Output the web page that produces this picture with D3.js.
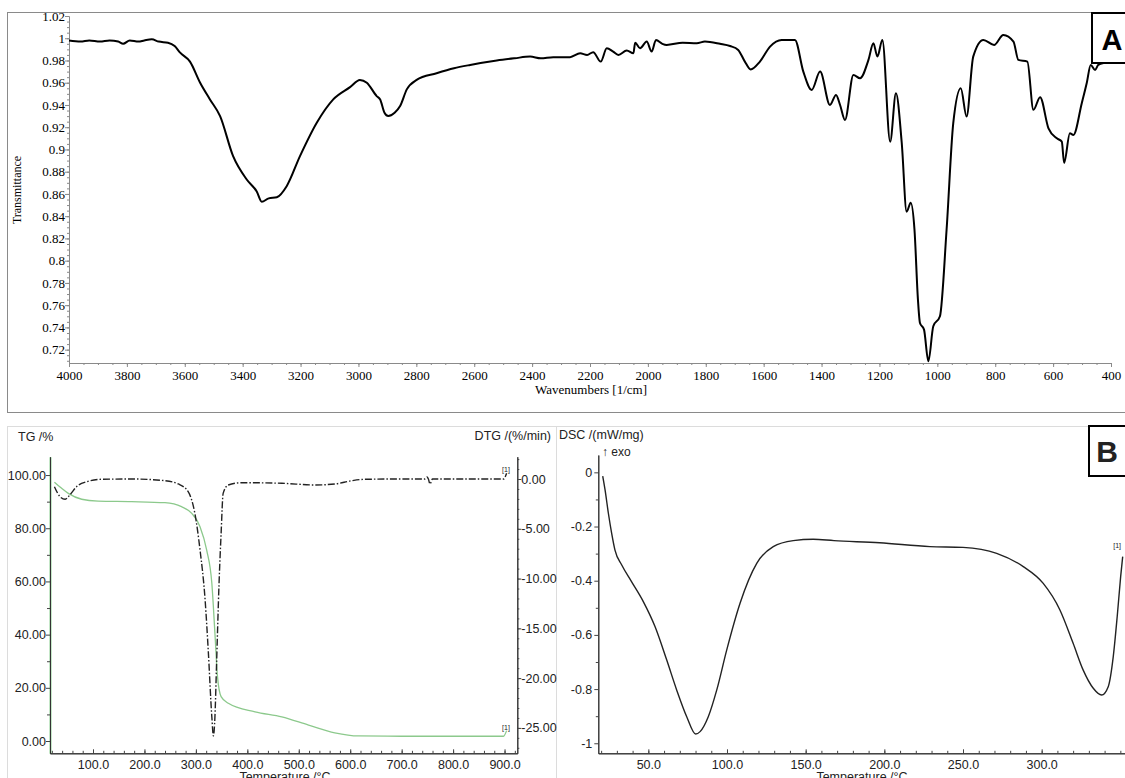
<!DOCTYPE html>
<html>
<head>
  <meta charset="utf-8">
  <title>FTIR and TG/DTG/DSC</title>
  <style>
    body { margin: 0; background: #fff; }
    svg { display: block; }
    .ir text { font-family: "Liberation Serif", serif; font-size: 13px; fill: #000; }
    .ta text { font-family: "Liberation Sans", Arial, sans-serif; font-size: 12.5px; fill: #222; }
  </style>
</head>
<body>
  <script src="https://d3js.org/d3.v7.min.js"></script>
  <script>
  // panel A: FTIR spectrum
  const irWavenumber = [4000, 3960, 3930, 3893, 3860, 3830, 3813, 3790, 3760, 3740, 3714, 3690, 3658, 3635, 3616,
    3582, 3547, 3513, 3478, 3433, 3386, 3351, 3334, 3310, 3282, 3248, 3202, 3144, 3087, 3029, 2995, 2971, 2937,
    2925, 2910, 2897, 2875, 2856, 2833, 2799, 2730, 2670, 2614, 2522, 2460, 2407, 2370, 2327, 2269, 2234, 2210,
    2189, 2163, 2142, 2120, 2102, 2073, 2050, 2044, 2027, 2004, 1987, 1972, 1950, 1935, 1880, 1831, 1803, 1751,
    1716, 1688, 1665, 1645, 1613, 1578, 1538, 1492, 1463, 1434, 1405, 1371, 1350, 1336, 1319, 1290, 1267, 1238,
    1221, 1207, 1190, 1163, 1143, 1123, 1106, 1092, 1079, 1067, 1060, 1046, 1031, 1014, 991, 968, 945, 919, 899,
    876, 841, 804, 772, 737, 720, 689, 668, 645, 616, 587, 570, 562, 542, 530, 501, 484, 470, 455, 444, 420, 400];
  const irTransmittance = [0.998, 0.997, 0.998, 0.997, 0.998, 0.997, 0.995, 0.998, 0.997, 0.998, 0.999, 0.997, 0.996, 0.993, 0.987,
    0.979, 0.960, 0.945, 0.930, 0.894, 0.873, 0.862, 0.853, 0.856, 0.857, 0.867, 0.894, 0.924, 0.945, 0.956, 0.9625, 0.960, 0.948,
    0.945, 0.933, 0.930, 0.933, 0.939, 0.954, 0.9625, 0.9685, 0.973, 0.976, 0.980, 0.982, 0.9835, 0.982, 0.983, 0.983, 0.9865, 0.985,
    0.9875, 0.979, 0.991, 0.988, 0.985, 0.989, 0.9865, 0.996, 0.991, 0.997, 0.988, 0.9985, 0.995, 0.994, 0.996, 0.9955, 0.997, 0.995,
    0.993, 0.9895, 0.979, 0.972, 0.979, 0.9925, 0.9985, 0.9985, 0.970, 0.9535, 0.970, 0.940, 0.949, 0.940, 0.9266, 0.967, 0.964, 0.9805,
    0.9955, 0.9835, 0.9985, 0.907, 0.9505, 0.906, 0.844, 0.852, 0.828, 0.765, 0.744, 0.738, 0.7095, 0.741, 0.750, 0.828, 0.9236, 0.955, 0.9296,
    0.9835, 0.9985, 0.994, 1.003, 0.997, 0.9805, 0.979, 0.9356, 0.947, 0.919, 0.910, 0.907, 0.888, 0.9146, 0.913, 0.9416, 0.9595, 0.976, 0.9715, 0.976, 0.978, 0.979];
  const irXTicks = [4000, 3800, 3600, 3400, 3200, 3000, 2800, 2600, 2400, 2200, 2000, 1800, 1600, 1400, 1200, 1000, 800, 600, 400];
  const irYTicks = [0.72, 0.74, 0.76, 0.78, 0.8, 0.82, 0.84, 0.86, 0.88, 0.9, 0.92, 0.94, 0.96, 0.98, 1, 1.02];

  // panel B left: TG and DTG
  const tgTemp = [25, 39, 52, 78, 110, 175, 240, 272, 292, 308, 321, 331, 337, 342, 349, 363, 415, 467, 519, 570, 616, 700, 800, 898, 904];
  const tgMass = [97.3, 95.0, 93.1, 90.9, 90.2, 90.0, 89.6, 88.1, 85.6, 80.6, 71.8, 59.3, 40.5, 24.2, 16.7, 14.2, 11.0, 9.1, 6.0, 3.1, 1.9, 1.8, 1.8, 1.8, 3.9];
  const dtgTemp = [25, 36, 46, 55, 68, 88, 117, 175, 240, 266, 285, 298, 308, 318, 324, 331, 334, 337, 340, 345, 349, 353, 363, 389,
    467, 532, 570, 603, 629, 700, 745, 749, 752, 755, 760, 800, 898, 904];
  const dtgRate = [-0.77, -1.78, -2.04, -1.6, -0.77, -0.27, -0.03, 0, -0.17, -0.5, -1.28, -3.45, -7.1, -12.2, -17.2, -23.9, -25.8, -23.9, -18.9, -10.5, -5.5, -1.44, -0.6, -0.37,
    -0.43, -0.6, -0.5, -0.17, -0.03, 0, 0, 0.2, 0, -0.5, 0, 0, 0, 0.57];
  const tgTempTicks = [100, 200, 300, 400, 500, 600, 700, 800, 900];
  const tgTicks = [0, 20, 40, 60, 80, 100];
  const dtgTicks = [0, -5, -10, -15, -20, -25];

  // panel B right: DSC
  const dscTemp = [21, 22.5, 24.6, 26.7, 28.8, 33.1, 39.4, 46.8, 54.3, 61.7, 68, 74.4, 80.1, 82.9, 88.1, 93.5, 99.8, 108.3, 118.9,
    129.4, 142.1, 154.8, 168, 197, 229, 250, 271.4, 288.3, 301, 311.6, 320, 326.4, 332.8, 338.1, 342.3, 345.5, 348, 350.2, 351.5];
  const dscFlow = [-0.014, -0.065, -0.151, -0.225, -0.287, -0.342, -0.404, -0.477, -0.57, -0.693, -0.803, -0.902, -0.966, -0.957, -0.902, -0.803, -0.656, -0.483, -0.336,
    -0.274, -0.252, -0.247, -0.252, -0.26, -0.274, -0.277, -0.299, -0.348, -0.41, -0.508, -0.631, -0.73, -0.797, -0.822, -0.791, -0.68, -0.533, -0.385, -0.311];
  const dscTempTicks = [50, 100, 150, 200, 250, 300];
  const dscTicks = [0, -0.2, -0.4, -0.6, -0.8, -1];

  const W = 1125, H = 778;
  const svg = d3.select("body").append("svg").attr("width", W).attr("height", H);

  function minorRange(a, b, step) {
    const out = [];
    const n = Math.round((b - a) / step);
    for (let i = 0; i <= n; i++) out.push(+(a + i * step).toFixed(4));
    return out;
  }

  const SERIF = "'Liberation Serif', 'Times New Roman', serif";
  const SANS = "'Liberation Sans', Arial, sans-serif";

  // ---------------- panel A ----------------
  const ir = svg.append("g").attr("class", "ir");
  ir.append("rect").attr("x", 7.5).attr("y", 12.5).attr("width", 1130).attr("height", 400)
    .attr("fill", "none").attr("stroke", "#8a8a8a");

  const irX = d3.scaleLinear().domain([4000, 400]).range([69, 1111]);
  const irY = d3.scaleLinear().domain([1.02, 0.708]).range([16, 363]);

  const irYAxis = ir.append("g").attr("transform", "translate(69,0)")
    .call(d3.axisLeft(irY).tickValues(irYTicks).tickFormat(d => String(+d.toFixed(2))).tickSize(4).tickSizeOuter(0));
  ir.append("g").attr("transform", "translate(69,0)")
    .call(d3.axisLeft(irY).tickValues(minorRange(0.71, 1.02, 0.005)).tickFormat("").tickSize(2).tickSizeOuter(0));
  const irXAxis = ir.append("g").attr("transform", "translate(0,363)")
    .call(d3.axisBottom(irX).tickValues(irXTicks).tickFormat(d3.format("d")).tickSize(4).tickSizeOuter(0));
  ir.append("g").attr("transform", "translate(0,363)")
    .call(d3.axisBottom(irX).tickValues(minorRange(400, 4000, 50)).tickFormat("").tickSize(2).tickSizeOuter(0));
  ir.selectAll("g").attr("font-family", SERIF).attr("font-size", 13);
  ir.selectAll(".domain, .tick line").attr("stroke", "#8a8a8a");
  ir.selectAll(".tick text").attr("fill", "#000").style("font-family", SERIF).style("font-size", "13px");
  irYAxis.selectAll(".tick text").attr("x", -4);
  irXAxis.selectAll(".tick text").attr("y", 8);

  ir.append("text").attr("transform", "translate(21,190) rotate(-90)").attr("text-anchor", "middle")
    .style("font-family", SERIF).style("font-size", "12px").text("Transmittance");
  ir.append("text").attr("x", 591).attr("y", 394).attr("text-anchor", "middle")
    .style("font-family", SERIF).text("Wavenumbers [1/cm]");

  ir.append("path")
    .datum(irWavenumber.map((w, i) => [w, irTransmittance[i]]))
    .attr("fill", "none").attr("stroke", "#000").attr("stroke-width", 2).attr("stroke-linejoin", "round")
    .attr("d", d3.line().curve(d3.curveMonotoneX).x(d => irX(d[0])).y(d => irY(d[1])));

  ir.append("rect").attr("x", 1092).attr("y", 13).attr("width", 40).attr("height", 50)
    .attr("fill", "#fff").attr("stroke", "#000").attr("stroke-width", 2);
  ir.append("text").attr("x", 1112).attr("y", 50).attr("text-anchor", "middle")
    .style("font-family", SANS).style("font-weight", "bold").style("font-size", "29px").text("A");

  // ---------------- panel B ----------------
  const ta = svg.append("g").attr("class", "ta");
  ta.append("rect").attr("x", 7.5).attr("y", 426.5).attr("width", 1130).attr("height", 400)
    .attr("fill", "none").attr("stroke", "#dcdcdc");
  ta.append("line").attr("x1", 556.5).attr("x2", 556.5).attr("y1", 426.5).attr("y2", H)
    .attr("stroke", "#dcdcdc");

  // TG / DTG
  const tX = d3.scaleLinear().domain([16.4, 924.8]).range([50, 517.3]);
  const tgY = d3.scaleLinear().domain([-4.62, 106.9]).range([753.3, 456.7]);
  const dtgY = d3.scaleLinear().domain([-27.55, 2.24]).range([753.3, 456.7]);

  const tgAxis = ta.append("g").attr("transform", "translate(50,0)")
    .call(d3.axisLeft(tgY).tickValues(tgTicks).tickFormat(d => d.toFixed(2)).tickSize(4).tickSizeOuter(0));
  ta.append("g").attr("transform", "translate(50,0)")
    .call(d3.axisLeft(tgY).tickValues([10, 30, 50, 70, 90]).tickFormat("").tickSize(3).tickSizeOuter(0));
  tgAxis.select(".domain").attr("stroke", "#3fae49").attr("stroke-width", 1.6);

  const dtgAxis = ta.append("g").attr("transform", "translate(517.3,0)")
    .call(d3.axisRight(dtgY).tickValues(dtgTicks).tickFormat(d => d.toFixed(2)).tickSize(4).tickSizeOuter(0));
  ta.append("g").attr("transform", "translate(517.3,0)")
    .call(d3.axisRight(dtgY).tickValues(minorRange(-27, 2, 1)).tickFormat("").tickSize(2).tickSizeOuter(0));

  const tAxis = ta.append("g").attr("transform", "translate(0,753.3)")
    .call(d3.axisBottom(tX).tickValues(tgTempTicks).tickFormat(d => d.toFixed(1)).tickSize(-4).tickSizeOuter(0));
  ta.append("g").attr("transform", "translate(0,753.3)")
    .call(d3.axisBottom(tX).tickValues(minorRange(20, 920, 20)).tickFormat("").tickSize(-2.5).tickSizeOuter(0));

  // DSC
  const dX = d3.scaleLinear().domain([18.2, 353.6]).range([598.3, 1126]);
  const dY = d3.scaleLinear().domain([-1.037, 0.064]).range([753.3, 455]);

  const dscAxis = ta.append("g").attr("transform", "translate(598.3,0)")
    .call(d3.axisLeft(dY).tickValues(dscTicks).tickFormat(d => String(+d.toFixed(1))).tickSize(4).tickSizeOuter(0));
  ta.append("g").attr("transform", "translate(598.3,0)")
    .call(d3.axisLeft(dY).tickValues([-0.1, -0.3, -0.5, -0.7, -0.9]).tickFormat("").tickSize(2.5).tickSizeOuter(0));
  const dAxis = ta.append("g").attr("transform", "translate(0,753.3)")
    .call(d3.axisBottom(dX).tickValues(dscTempTicks).tickFormat(d => d.toFixed(1)).tickSize(-4).tickSizeOuter(0));
  ta.append("g").attr("transform", "translate(0,753.3)")
    .call(d3.axisBottom(dX).tickValues(minorRange(20, 350, 10)).tickFormat("").tickSize(-2.5).tickSizeOuter(0));

  ta.selectAll(".domain").filter(function() { return d3.select(this).attr("stroke") !== "#3fae49"; })
    .attr("stroke", "#333");
  ta.selectAll(".tick line").attr("stroke", "#444");
  ta.selectAll(".tick text").attr("fill", "#222").style("font-size", "12.5px").style("font-family", SANS);
  tgAxis.selectAll(".tick text").attr("x", -4);
  dtgAxis.selectAll(".tick text").attr("x", 4);
  dscAxis.selectAll(".tick text").attr("x", -6);
  tAxis.selectAll(".tick text").attr("y", 7);
  dAxis.selectAll(".tick text").attr("y", 7);

  ta.append("text").attr("x", 18).attr("y", 441).text("TG /%");
  ta.append("text").attr("x", 551).attr("y", 440).attr("text-anchor", "end").text("DTG /(%/min)");
  ta.append("text").attr("x", 559).attr("y", 439).text("DSC /(mW/mg)");
  ta.append("text").attr("x", 602).attr("y", 456).style("font-size", "12px").text("\u2191 exo");
  ta.append("text").attr("x", 285).attr("y", 781).attr("text-anchor", "middle").text("Temperature /\u00b0C");
  ta.append("text").attr("x", 862).attr("y", 781).attr("text-anchor", "middle").text("Temperature /\u00b0C");

  const smooth = d3.curveMonotoneX;
  ta.append("path")
    .datum(tgTemp.map((t, i) => [t, tgMass[i]]))
    .attr("fill", "none").attr("stroke", "#8cc98c").attr("stroke-width", 1.3)
    .attr("d", d3.line().curve(smooth).x(d => tX(d[0])).y(d => tgY(d[1])));
  ta.append("path")
    .datum(dtgTemp.map((t, i) => [t, dtgRate[i]]))
    .attr("fill", "none").attr("stroke", "#222").attr("stroke-width", 1.4)
    .attr("stroke-dasharray", "7,2,1.5,2")
    .attr("d", d3.line().curve(smooth).x(d => tX(d[0])).y(d => dtgY(d[1])));
  ta.append("path")
    .datum(dscTemp.map((t, i) => [t, dscFlow[i]]))
    .attr("fill", "none").attr("stroke", "#222").attr("stroke-width", 1.4)
    .attr("d", d3.line().curve(smooth).x(d => dX(d[0])).y(d => dY(d[1])));

  const tag = (x, y, c) => ta.append("text").attr("x", x).attr("y", y).attr("fill", c)
    .style("font-size", "7px").text("[1]");
  tag(tX(903) - 4, tgY(tgMass[tgMass.length - 1]) - 1, "#5aa85a");
  tag(tX(903) - 4, dtgY(dtgRate[dtgRate.length - 1]) - 1, "#333");
  tag(dX(348) - 4, dY(-0.28), "#333");

  ta.append("rect").attr("x", 1089).attr("y", 426).attr("width", 45).attr("height", 50)
    .attr("fill", "#fff").attr("stroke", "#000").attr("stroke-width", 2);
  ta.append("text").attr("x", 1107).attr("y", 462).attr("text-anchor", "middle")
    .style("font-weight", "bold").style("font-size", "30px").attr("fill", "#000").text("B");
  </script>
</body>
</html>
